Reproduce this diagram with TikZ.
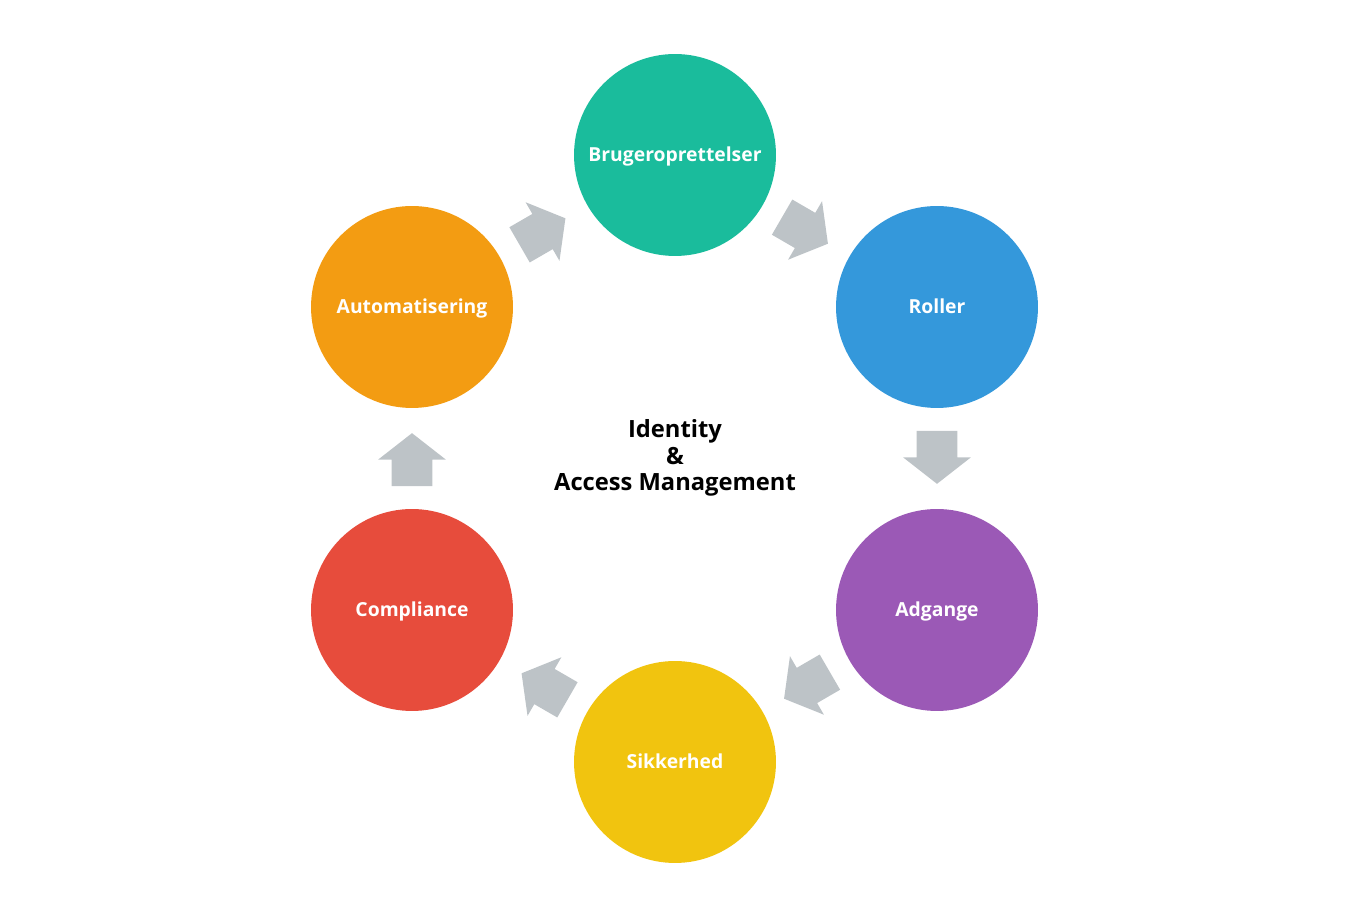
\documentclass[tikz,border=0pt]{standalone}
\usepackage{fontspec}
\setmainfont{Open Sans}
\usetikzlibrary{shapes.arrows}

\definecolor{cteal}{HTML}{1ABC9C}
\definecolor{cblue}{HTML}{3498DB}
\definecolor{cpurple}{HTML}{9B59B6}
\definecolor{cyellow}{HTML}{F1C40F}
\definecolor{cred}{HTML}{E74C3C}
\definecolor{corange}{HTML}{F39C12}
\definecolor{cgray}{HTML}{BDC3C7}

\begin{document}
\begin{tikzpicture}[x=0.02cm, y=-0.02cm,
  stage/.style={circle, minimum size=4.04cm, inner sep=0pt, text=white,
    text height=1.33ex, text depth=0pt,
    font=\fontsize{11}{13}\selectfont\bfseries},
  flow/.style={single arrow, fill=cgray, draw=none, inner xsep=0pt, inner ysep=0.4cm,
    minimum height=1.06cm,
    single arrow head extend=0.27cm, single arrow tip angle=104,
    sloped, allow upside down, pos=0.47}]

\useasboundingbox (0,0) rectangle (1350,918);

\node[stage, fill=cteal]   (brug)  at (675,155) {Brugeroprettelser};
\node[stage, fill=cblue]   (rol)   at (937,307) {Roller};
\node[stage, fill=cpurple] (adg)   at (937,610) {Adgange};
\node[stage, fill=cyellow] (sik)   at (675,762) {Sikkerhed};
\node[stage, fill=cred]    (comp)  at (412,610) {Compliance};
\node[stage, fill=corange] (auto)  at (412,307) {Automatisering};

\node[align=center, font=\fontsize{13.5}{15.2}\selectfont\bfseries] (iam) at (675,458)
  {Identity\\\&\\Access Management};

% block arrows between the stages
\path (brug.center) -- (rol.center)  node[flow] (a1) {};
\path (rol.center)  -- (adg.center)  node[flow] (a2) {};
\path (adg.center)  -- (sik.center)  node[flow] (a3) {};
\path (sik.center)  -- (comp.center) node[flow] (a4) {};
\path (comp.center) -- (auto.center) node[flow] (a5) {};
\path (auto.center) -- (brug.center) node[flow] (a6) {};

\end{tikzpicture}
\end{document}
